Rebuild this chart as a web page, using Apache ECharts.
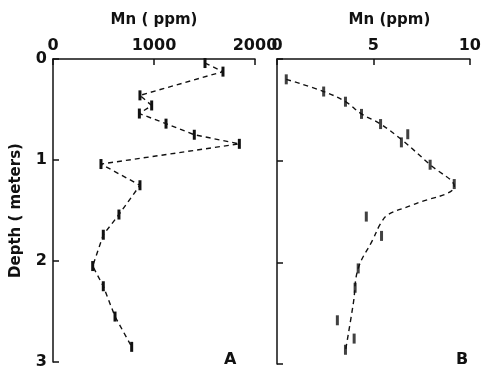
<!DOCTYPE html>
<html>
<head>
<meta charset="utf-8">
<script src="https://cdn.jsdelivr.net/npm/echarts@6/dist/echarts.min.js"></script>
<style>html,body{margin:0;padding:0;background:#fff}#c{width:484px;height:370px}</style>
</head>
<body>
<div id="c"></div>
<script>
// Panel A: Mn (ppm) vs depth (m)
const mnA = [1505, 1683, 861, 977, 855, 1119, 1399, 1845, 475, 861, 653, 498, 393, 498, 614, 779];
const depthA = [0.04, 0.125, 0.36, 0.46, 0.54, 0.64, 0.75, 0.84, 1.04, 1.25, 1.54, 1.74, 2.05, 2.25, 2.55, 2.85];
// Panel B: measured points
const mnB = [0.48, 2.42, 3.55, 4.38, 5.37, 6.45, 6.78, 7.94, 9.19, 4.63, 5.42, 4.21, 4.05, 3.13, 4.0, 3.55];
const depthB = [0.2, 0.32, 0.42, 0.54, 0.64, 0.82, 0.74, 1.04, 1.23, 1.55, 1.74, 2.06, 2.25, 2.57, 2.75, 2.86];
// Panel B: drawn trend curve
const curveMnB = [0.48, 2.42, 3.55, 4.38, 5.37, 6.5, 7.94, 9.19, 7.1, 5.77, 5.37, 4.96, 4.21, 3.96, 3.55];
const curveDepthB = [0.2, 0.32, 0.42, 0.54, 0.64, 0.8, 1.04, 1.25, 1.43, 1.53, 1.62, 1.78, 2.06, 2.4, 2.87];
const xTicksA = [0, 1000, 2000];
const xTicksB = [0, 5, 10];
const depthTicks = [0, 1, 2, 3];

const ink = '#111';
const font = 'DejaVu Sans';
const zip = (xs, ys) => xs.map((v, i) => [v, ys[i]]);

const labelStyle = {color: ink, fontSize: 16, fontFamily: font, fontWeight: 'bold'};
const xAxisBase = {
  type: 'value', position: 'top',
  axisLine: {show: true, lineStyle: {color: ink, width: 1.5}},
  axisTick: {show: true, inside: true, length: 6, lineStyle: {color: ink, width: 1.5}},
  splitLine: {show: false},
  axisLabel: Object.assign({}, labelStyle, {margin: 5, formatter: v => String(v)}),
  nameLocation: 'middle', nameGap: 31,
  nameTextStyle: {color: ink, fontSize: 15, fontFamily: font, fontWeight: 'bold'}
};
const yAxisBase = {
  type: 'value', inverse: true, min: 0, max: 3, interval: 1,
  axisLine: {show: true, lineStyle: {color: ink, width: 1.5}},
  axisTick: {show: true, inside: true, length: 6, lineStyle: {color: ink, width: 1.5}},
  splitLine: {show: false},
  axisLabel: Object.assign({}, labelStyle, {margin: 6,
    formatter: v => depthTicks.includes(v) ? String(v) : ''})
};

const chart = echarts.init(document.getElementById('c'), null, {renderer: 'canvas'});
chart.setOption({
  backgroundColor: '#fff',
  animation: false,
  grid: [
    {left: 53, top: 59, width: 202, height: 305},
    {left: 277, top: 59, width: 201, height: 305}
  ],
  xAxis: [
    Object.assign({}, xAxisBase, {gridIndex: 0, min: xTicksA[0], max: xTicksA[2], interval: 1000,
      name: 'Mn ( ppm)'}),
    Object.assign({}, xAxisBase, {gridIndex: 1, min: xTicksB[0], max: xTicksB[2], interval: 5,
      name: 'Mn (ppm)', nameTextStyle: {color: ink, fontSize: 15, fontFamily: font, fontWeight: 'bold', padding: [0, 0, 0, 32]}})
  ],
  yAxis: [
    Object.assign({}, yAxisBase, {gridIndex: 0, name: 'Depth ( meters)', nameLocation: 'middle', nameGap: 29,
      nameTextStyle: {color: ink, fontSize: 15, fontFamily: font, fontWeight: 'bold'}}),
    Object.assign({}, yAxisBase, {gridIndex: 1, axisLabel: {show: false}})
  ],
  series: [
    {type: 'line', xAxisIndex: 0, yAxisIndex: 0, data: zip(mnA, depthA),
      lineStyle: {color: ink, width: 1.4, type: [5, 4]},
      symbol: 'rect', symbolSize: [3, 10], itemStyle: {color: ink}},
    {type: 'line', xAxisIndex: 1, yAxisIndex: 1, data: zip(curveMnB, curveDepthB),
      smooth: 0.4, showSymbol: false, symbol: 'none',
      lineStyle: {color: ink, width: 1.4, type: [5, 4]}},
    {type: 'scatter', xAxisIndex: 1, yAxisIndex: 1, data: zip(mnB, depthB),
      symbol: 'rect', symbolSize: [3, 10], itemStyle: {color: ink}}
  ],
  graphic: [
    {type: 'text', left: 224, top: 352, style: {text: 'A', fontSize: 16, fontFamily: font, fontWeight: 'bold', fill: ink}},
    {type: 'text', left: 456, top: 352, style: {text: 'B', fontSize: 16, fontFamily: font, fontWeight: 'bold', fill: ink}}
  ]
});
</script>
</body>
</html>
